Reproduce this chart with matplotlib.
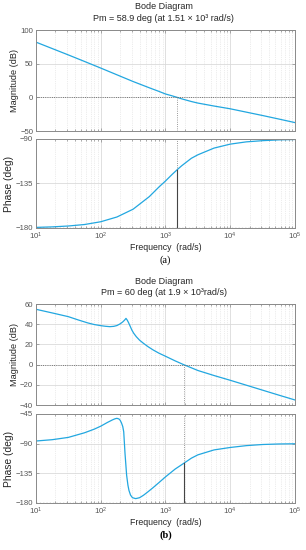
import matplotlib
matplotlib.use("Agg")
import matplotlib.pyplot as plt
import numpy as np

plt.rcParams["font.family"] = ["Liberation Sans", "DejaVu Sans"]

LINE = "#22a7e0"
GRID = "#dadada"
TXT = "#555555"

# (a), log10(rad/s) -> value
a_logw = [1.0, 1.25, 1.5, 1.75, 2.0, 2.25, 2.5, 2.75, 2.9, 3.0, 3.1, 3.18,
          3.25, 3.4, 3.5, 3.75, 4.0, 4.25, 4.5, 4.75, 5.0]
a_mag = [82.0, 72.5, 63.0, 53.3, 43.5, 33.5, 23.5, 14.2, 8.8, 5.0, 2.3, 0.0,
         -2.2, -6.2, -8.5, -12.9, -17.0, -22.0, -27.0, -32.2, -37.5]
a_phase = [-179.4, -178.9, -178.0, -176.5, -173.7, -168.9, -161.0, -148.3,
           -138.5, -132.5, -126.0, -121.1, -117.1, -109.5, -106.0, -99.2,
           -95.2, -92.9, -91.7, -90.9, -90.5]
a_wc = 1.51e3
a_pm_phase = -121.1

# (b)
b_mag_logw = [1.0, 1.25, 1.5, 1.65, 1.8, 1.9, 2.0, 2.07, 2.14, 2.2, 2.25,
              2.3, 2.34, 2.37, 2.39, 2.41, 2.43, 2.455, 2.48, 2.51, 2.55,
              2.6, 2.66, 2.73, 2.81, 2.9, 3.0, 3.15, 3.28, 3.5, 3.75, 4.0,
              4.25, 4.5, 4.75, 5.0]
b_mag = [54.8, 51.2, 47.5, 44.3, 41.3, 39.7, 38.6, 38.0, 37.6, 37.9, 38.7,
         40.4, 42.3, 44.2, 45.8, 44.0, 41.5, 38.0, 34.3, 31.0, 27.6, 24.2,
         21.1, 17.8, 14.5, 11.3, 8.3, 3.7, 0.0, -5.8, -10.8, -15.5, -20.4,
         -25.3, -30.2, -35.0]
b_ph_logw = [1.0, 1.25, 1.5, 1.75, 1.9, 2.0, 2.1, 2.18, 2.22, 2.25, 2.28,
             2.3, 2.32, 2.34, 2.355, 2.375, 2.4, 2.42, 2.436, 2.46, 2.49,
             2.54, 2.6, 2.66, 2.73, 2.81, 2.9, 3.0, 3.15, 3.28, 3.4, 3.5,
             3.75, 4.0, 4.25, 4.5, 4.75, 5.0]
b_phase = [-86.0, -84.0, -80.5, -73.5, -68.0, -63.5, -58.0, -54.0, -52.3,
           -51.6, -52.5, -54.5, -58.5, -64.0, -72.0, -105.0, -138.0, -153.0,
           -161.0, -168.0, -172.0, -173.4, -172.0, -168.3, -163.0, -156.6,
           -149.0, -140.4, -128.5, -120.0, -112.0, -107.0, -99.5, -95.8,
           -93.0, -91.3, -90.5, -90.2]
b_wc = 1.9e3
b_pm_phase = -120.0

panels = [
    dict(mag_w=a_logw, mag=a_mag, ph_w=a_logw, ph=a_phase, wc=a_wc,
         pm_ph=a_pm_phase, mag_lim=(-50, 100), mag_ticks=[-50, 0, 50, 100],
         ph_lim=(-180, -90), ph_ticks=[-180, -135, -90],
         title1="Bode Diagram",
         title2="Pm = 58.9 deg (at 1.51 \u00d7 10\u00b3 rad/s)",
         label="(a)", weight="normal", ty=(0.989, 0.9655),
         mag_box=[0.1176, 0.7618, 0.8464, 0.1836],
         ph_box=[0.1176, 0.5855, 0.8464, 0.1618]),
    dict(mag_w=b_mag_logw, mag=b_mag, ph_w=b_ph_logw, ph=b_phase, wc=b_wc,
         pm_ph=b_pm_phase, mag_lim=(-40, 60),
         mag_ticks=[-40, -20, 0, 20, 40, 60],
         ph_lim=(-180, -45), ph_ticks=[-180, -135, -90, -45],
         title1="Bode Diagram",
         title2="Pm = 60 deg (at 1.9 \u00d7 10\u00b3rad/s)",
         label="(b)", weight="bold", ty=(0.489, 0.469),
         mag_box=[0.1176, 0.2636, 0.8464, 0.1836],
         ph_box=[0.1176, 0.0855, 0.8464, 0.1618]),
]

fig = plt.figure(figsize=(3.06, 5.50), dpi=100)


def style(ax):
    ax.set_xscale("log")
    ax.set_xlim(1e1, 1e5)
    ax.grid(True, which="major", color=GRID, lw=0.6, ls="-")
    ax.grid(True, which="minor", axis="x", color=GRID, lw=0.5, ls=":")
    ax.tick_params(which="both", direction="in", labelsize=5.6,
                   colors="#8a8a8a", labelcolor=TXT, top=True, right=True,
                   length=2.2, width=0.5, pad=2)
    ax.tick_params(which="minor", length=1.2)
    for s in ax.spines.values():
        s.set_color("#8a8a8a")
        s.set_linewidth(0.7)
    ax.set_axisbelow(True)


for p in panels:
    mw = 10.0 ** np.array(p["mag_w"])
    pw = 10.0 ** np.array(p["ph_w"])

    ax1 = fig.add_axes(p["mag_box"])
    style(ax1)
    ax1.plot(mw, p["mag"], color=LINE, lw=0.9)
    ax1.axhline(0, color="#555555", lw=0.6, ls=":")
    ax1.plot([p["wc"], p["wc"]], [p["mag_lim"][0], 0], color="#777777",
             lw=0.6, ls=":")
    ax1.set_ylim(*p["mag_lim"])
    ax1.set_yticks(p["mag_ticks"])
    ax1.tick_params(labelbottom=False)
    ax1.set_ylabel("Magnitude (dB)", fontsize=6.6, color="#262626",
                   labelpad=1)

    fig.text(0.535, p["ty"][0], p["title1"], ha="center", va="center",
             fontsize=6.5, color="#262626")
    fig.text(0.535, p["ty"][1], p["title2"], ha="center", va="center",
             fontsize=6.5, color="#262626")

    ax2 = fig.add_axes(p["ph_box"])
    style(ax2)
    ax2.plot(pw, p["ph"], color=LINE, lw=0.9)
    ax2.axhline(-180, color="#555555", lw=0.9, ls=":")
    ax2.plot([p["wc"], p["wc"]], [p["pm_ph"], p["ph_lim"][1]],
             color="#777777", lw=0.6, ls=":")
    ax2.plot([p["wc"], p["wc"]], [-180, p["pm_ph"]], color="#444444", lw=0.8)
    ax2.set_ylim(*p["ph_lim"])
    ax2.set_yticks(p["ph_ticks"])
    ax2.set_ylabel("Phase (deg)", fontsize=7.4, color="#262626", labelpad=1)
    ax2.set_xlabel("Frequency  (rad/s)", fontsize=6.3, color="#262626",
                   labelpad=1)
    ax2.text(0.5, -0.36, p["label"], transform=ax2.transAxes, ha="center",
             va="center", fontsize=7.5, family="Liberation Serif",
             fontweight=p["weight"])

fig.savefig("out.png", dpi=100)
